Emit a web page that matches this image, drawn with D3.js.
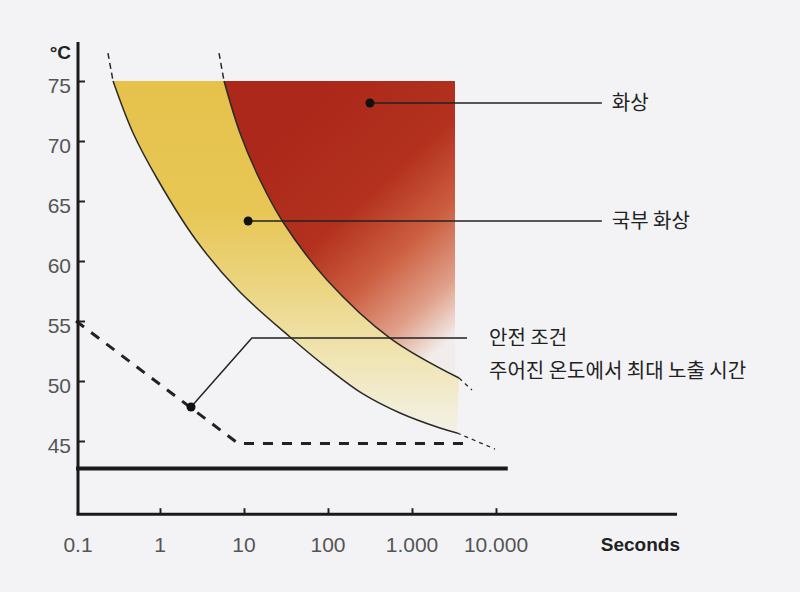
<!DOCTYPE html>
<html>
<head>
<meta charset="utf-8">
<script src="https://d3js.org/d3.v7.min.js"></script>
<style>
  body { margin: 0; background: #f3f3f5; }
  svg { display: block; }
  .tick-label { font-family: "Liberation Sans", Arial, sans-serif; font-size: 21px; fill: #555; }
  .unit { font-family: "Liberation Sans", Arial, sans-serif; font-weight: bold; fill: #222; }
  .note { font-family: "Noto Sans CJK KR", sans-serif; font-size: 20px; fill: #222; }
</style>
</head>
<body>
<svg id="chart" width="800" height="592"></svg>
<script>
// ---- data (seconds, °C) ----
const xTicks = [0.1, 1, 10, 100, 1000, 10000];
const xTickLabels = ["0.1", "1", "10", "100", "1.000", "10.000"];
const yTicks = [45, 50, 55, 60, 65, 70, 75];

// partial burn threshold (left curve)
const partialCurve = [[0.276, 75], [0.478, 70.67], [0.946, 66.75], [2.68, 61.75], [8.48, 57.58],
  [35.3, 53.67], [105.6, 50.92], [261, 48.92], [720, 47.33], [2154, 46.08], [3435, 45.67]];
const partialTop = [[0.240, 77.33], [0.276, 75]];
const partialTail = [[3435, 45.67], [9730, 44.33]];

// full burn threshold (right curve)
const burnCurve = [[5.78, 75], [8.96, 70.67], [15.5, 66.75], [29.1, 63.25],
  [97.3, 58.42], [547, 53.58], [3630, 50.25]];
const burnTop = [[5.04, 77.33], [5.78, 75]];
const burnTail = [[3630, 50.25], [5180, 49.25]];

const burnAreaRight = 3250;   // right edge of red field, seconds
const topTemp = 75;

// safe condition (dashed)
const safeLine = [[0.1, 55], [8.5, 44.8], [4900, 44.8]];
// reference line
const baseLine = [[0.1, 42.7], [13800, 42.7]];

// callouts: dot, (elbow), end, text lines
const callouts = [
  { pts: [[316, 73.17], [182000, 73.17]], text: ["화상"], gap: 10 },
  { pts: [[11.2, 63.33], [182000, 63.33]], text: ["국부 화상"], gap: 10 },
  { pts: [[2.34, 47.83], [12.4, 53.58], [4520, 53.58]], text: ["안전 조건", "주어진 온도에서 최대 노출 시간"], gap: 22 }
];

// ---- scales ----
const svg = d3.select("#chart");
const x = d3.scaleLog().domain([0.1, 10000]).range([76, 496]);
const y = d3.scaleLinear().domain([45, 75]).range([441, 81]);
const xAxisEnd = 1.43e6, yAxisTop = 78.25, yAxisBottom = 38.9;

const defs = svg.append("defs");
const redGrad = defs.append("linearGradient").attr("id", "redGrad")
  .attr("gradientUnits", "userSpaceOnUse")
  .attr("x1", 250).attr("y1", 150).attr("x2", 440).attr("y2", 360);
[[0, "#ab281a"], [0.4, "#b3311e"], [0.62, "#cc5e40"], [0.82, "#e0a08a"], [0.97, "#f2ecea"]]
  .forEach(s => redGrad.append("stop").attr("offset", s[0]).attr("stop-color", s[1]));
const yelGrad = defs.append("linearGradient").attr("id", "yelGrad")
  .attr("gradientUnits", "userSpaceOnUse")
  .attr("x1", 0).attr("y1", y(75)).attr("x2", 0).attr("y2", y(44.5));
[[0, "#e6c24b"], [0.35, "#e7c655"], [0.55, "#ebd47e"], [0.75, "#f0e4b2"], [0.92, "#f3efde"], [1, "#f3f2ec"]]
  .forEach(s => yelGrad.append("stop").attr("offset", s[0]).attr("stop-color", s[1]));

defs.append("clipPath").attr("id", "redClip").append("rect")
  .attr("x", 0).attr("y", y(topTemp))
  .attr("width", x(burnAreaRight)).attr("height", 600);

const line = d3.line().x(d => x(d[0])).y(d => y(d[1]));
const smooth = d3.line().x(d => x(d[0])).y(d => y(d[1])).curve(d3.curveCatmullRom.alpha(0.5));

// yellow band between curves
svg.append("path")
  .attr("d", smooth(partialCurve) + "L" + smooth(burnCurve.slice().reverse()).slice(1) + "Z")
  .attr("fill", "url(#yelGrad)");

// red field right of burn curve
const farRight = [[1e6, burnCurve[burnCurve.length - 1][1]], [1e6, topTemp]];
svg.append("path")
  .attr("d", smooth(burnCurve) + "L" + line(farRight).slice(1) + "Z")
  .attr("fill", "url(#redGrad)")
  .attr("clip-path", "url(#redClip)");

// curves
[partialCurve, burnCurve].forEach(c => {
  svg.append("path").attr("d", smooth(c))
    .attr("fill", "none").attr("stroke", "#2a2a2a").attr("stroke-width", 1.5);
});
[partialTop, burnTop].forEach(c => {
  svg.append("path").attr("d", line(c))
    .attr("fill", "none").attr("stroke", "#2a2a2a").attr("stroke-width", 1.5)
    .attr("stroke-dasharray", "6,4");
});
[partialTail, burnTail].forEach(c => {
  svg.append("path").attr("d", line(c))
    .attr("fill", "none").attr("stroke", "#2a2a2a").attr("stroke-width", 1.3)
    .attr("stroke-dasharray", "4,4");
});

// safe line and reference line
svg.append("path").attr("d", line(safeLine))
  .attr("fill", "none").attr("stroke", "#222").attr("stroke-width", 3)
  .attr("stroke-dasharray", "10,9");
svg.append("path").attr("d", line(baseLine))
  .attr("fill", "none").attr("stroke", "#1a1a1a").attr("stroke-width", 4);

// axes
const yAxis = d3.axisRight(y).tickValues(yTicks).tickSize(7).tickFormat("");
const gy = svg.append("g").attr("transform", `translate(${x(0.1) + 2},0)`).call(yAxis);
gy.select(".domain").remove();
gy.selectAll(".tick line").attr("stroke", "#222").attr("stroke-width", 2);
svg.append("line")
  .attr("x1", x(0.1) + 2).attr("x2", x(0.1) + 2)
  .attr("y1", y(yAxisTop)).attr("y2", y(yAxisBottom))
  .attr("stroke", "#1a1a1a").attr("stroke-width", 3);

const xAxis = d3.axisTop(x).tickValues(xTicks.slice(1)).tickSize(6).tickFormat("");
const gx = svg.append("g").attr("transform", `translate(0,${y(yAxisBottom)})`).call(xAxis);
gx.select(".domain").remove();
gx.selectAll(".tick line").attr("stroke", "#222").attr("stroke-width", 2);
svg.append("line")
  .attr("x1", x(0.1) + 0.5).attr("x2", x(xAxisEnd))
  .attr("y1", y(yAxisBottom)).attr("y2", y(yAxisBottom))
  .attr("stroke", "#1a1a1a").attr("stroke-width", 3);

svg.selectAll(".ylab").data(yTicks).join("text")
  .attr("class", "tick-label").attr("text-anchor", "end")
  .attr("x", 71).attr("y", d => y(d) + 12).text(d => d);
svg.selectAll(".xlab").data(xTicks).join("text")
  .attr("class", "tick-label").attr("text-anchor", "middle")
  .attr("x", (d, i) => x(d) + (i === 0 ? 2 : 0)).attr("y", 552)
  .text((d, i) => xTickLabels[i]);

svg.append("text").attr("class", "unit").attr("font-size", 19)
  .attr("text-anchor", "end").attr("x", 71).attr("y", 59).text("°C");
svg.append("text").attr("class", "unit").attr("font-size", 19)
  .attr("text-anchor", "end").attr("x", 680).attr("y", 551).text("Seconds");

// callouts
callouts.forEach(c => {
  svg.append("path").attr("d", line(c.pts))
    .attr("fill", "none").attr("stroke", "#222").attr("stroke-width", 1.5);
  svg.append("circle").attr("cx", x(c.pts[0][0])).attr("cy", y(c.pts[0][1]))
    .attr("r", 4.5).attr("fill", "#111");
  const end = c.pts[c.pts.length - 1];
  c.text.forEach((t, i) => {
    svg.append("text").attr("class", "note")
      .attr("x", x(end[0]) + c.gap).attr("y", y(end[1]) + 7 + i * 33)
      .text(t);
  });
});
</script>
</body>
</html>
